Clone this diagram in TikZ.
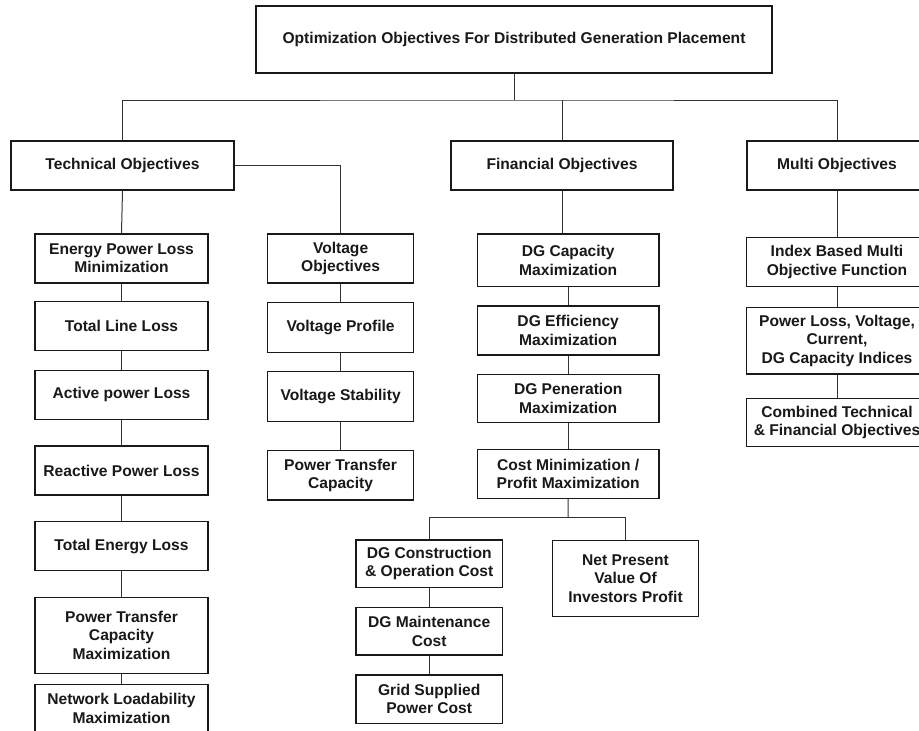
\documentclass[tikz,border=0pt]{standalone}
\usepackage{fontspec}
\setmainfont{Liberation Sans}
\begin{document}
\begin{tikzpicture}[x=1pt,y=-1pt,
  box/.style={draw=black!90,line width=1.3pt,fill=white,inner sep=0pt,align=center,
    font=\fontsize{15.6}{18.4}\selectfont\bfseries,text=black!90},
  link/.style={draw=black!80,line width=1pt}]
\useasboundingbox (0,0) rectangle (919,731);
\clip (0,0) rectangle (919,731);
\fill[white] (0,0) rectangle (919,731);

% junction points of the bus lines
\coordinate (bus) at (514,100);
\coordinate (cbus) at (568,517.3);

% top level
\node[box,minimum width=516pt,minimum height=67pt] (title) at (514,39.5) {Optimization Objectives For Distributed Generation Placement};
\node[box,minimum width=223pt,minimum height=49pt] (tech) at (122.5,165.5) {Technical Objectives};
\node[box,minimum width=222pt,minimum height=49pt] (fin) at (562,165.5) {Financial Objectives};
\node[box,minimum width=180pt,minimum height=49pt] (multi) at (837,165.5) {Multi Objectives};

% technical: losses
\node[box,minimum width=173pt,minimum height=49pt] (epl) at (121.5,258.5) {Energy Power Loss\\Minimization};
\node[box,minimum width=173pt,minimum height=49pt] (tll) at (121.5,326.3) {Total Line Loss};
\node[box,minimum width=173pt,minimum height=49pt] (apl) at (121.5,394.8) {Active power Loss};
\node[box,minimum width=173pt,minimum height=49pt] (rpl) at (121.5,470.5) {Reactive Power Loss};
\node[box,minimum width=173pt,minimum height=49pt] (tel) at (121.5,546.2) {Total Energy Loss};
\node[box,minimum width=173pt,minimum height=76pt] (ptcm) at (121.5,635.3) {Power Transfer\\Capacity\\Maximization};
\node[box,minimum width=173pt,minimum height=48pt] (nlm) at (121.5,708.3) {Network Loadability\\Maximization};

% technical: voltage
\node[box,minimum width=146pt,minimum height=49pt] (vo) at (340.6,258.5) {Voltage\\Objectives};
\node[box,minimum width=146pt,minimum height=50pt] (vp) at (340.6,327.3) {Voltage Profile};
\node[box,minimum width=146pt,minimum height=50pt] (vs) at (340.6,396.3) {Voltage Stability};
\node[box,minimum width=146pt,minimum height=49.7pt] (ptc) at (340.6,475.2) {Power Transfer\\Capacity};

% financial
\node[box,minimum width=181.7pt,minimum height=52.7pt] (dgc) at (568.2,260.3) {DG Capacity\\Maximization};
\node[box,minimum width=181.7pt,minimum height=49pt] (dge) at (568.2,330.5) {DG Efficiency\\Maximization};
\node[box,minimum width=181.7pt,minimum height=48.4pt] (dgp) at (568.2,398.5) {DG Peneration\\Maximization};
\node[box,minimum width=181.7pt,minimum height=49pt] (cost) at (568.2,473.8) {Cost Minimization /\\Profit Maximization};
\node[box,minimum width=146.3pt,minimum height=47.3pt] (dgco) at (429.2,563.7) {DG Construction\\\& Operation Cost};
\node[box,minimum width=146.3pt,minimum height=47.3pt] (dgm) at (429.2,631.3) {DG Maintenance\\Cost};
\node[box,minimum width=146.3pt,minimum height=48.3pt] (gsp) at (429.2,699.2) {Grid Supplied\\Power Cost};
\node[box,minimum width=145.6pt,minimum height=76pt] (npv) at (625.5,578.7) {Net Present\\Value Of\\Investors Profit};

% multi
\node[box,minimum width=180.6pt,minimum height=49pt] (ibm) at (837,262) {Index Based Multi\\Objective Function};
\node[box,minimum width=180.6pt,minimum height=66.7pt] (plv) at (837,340.7) {Power Loss, Voltage,\\Current,\\DG Capacity Indices};
\node[box,minimum width=180.6pt,minimum height=48.4pt] (ctf) at (837,422.5) {Combined Technical\\\& Financial Objectives};

% tree links
\draw[link] (title.south) -- (bus);
\draw[link] (tech.north) |- (bus) -| (multi.north);
\draw[link] (fin.north) -- (fin.north |- bus);

\draw[link] (tech.south) -- (epl.north);
\draw[link] (epl) -- (tll) (tll) -- (apl) (apl) -- (rpl) (rpl) -- (tel) (tel) -- (ptcm) (ptcm) -- (nlm);
\draw[link] (tech.east) -| (vo.north);
\draw[link] (vo) -- (vp) (vp) -- (vs) (vs) -- (ptc);

\draw[link] (fin.south) -- (fin.south |- dgc.north);
\draw[link] (dgc) -- (dge) (dge) -- (dgp) (dgp) -- (cost);
\draw[link] (cost.south) -- (cbus);
\draw[link] (dgco.north) |- (cbus) -| (npv.north);
\draw[link] (dgco) -- (dgm) (dgm) -- (gsp);

\draw[link] (multi) -- (ibm) (ibm) -- (plv) (plv) -- (ctf);
\end{tikzpicture}
\end{document}
